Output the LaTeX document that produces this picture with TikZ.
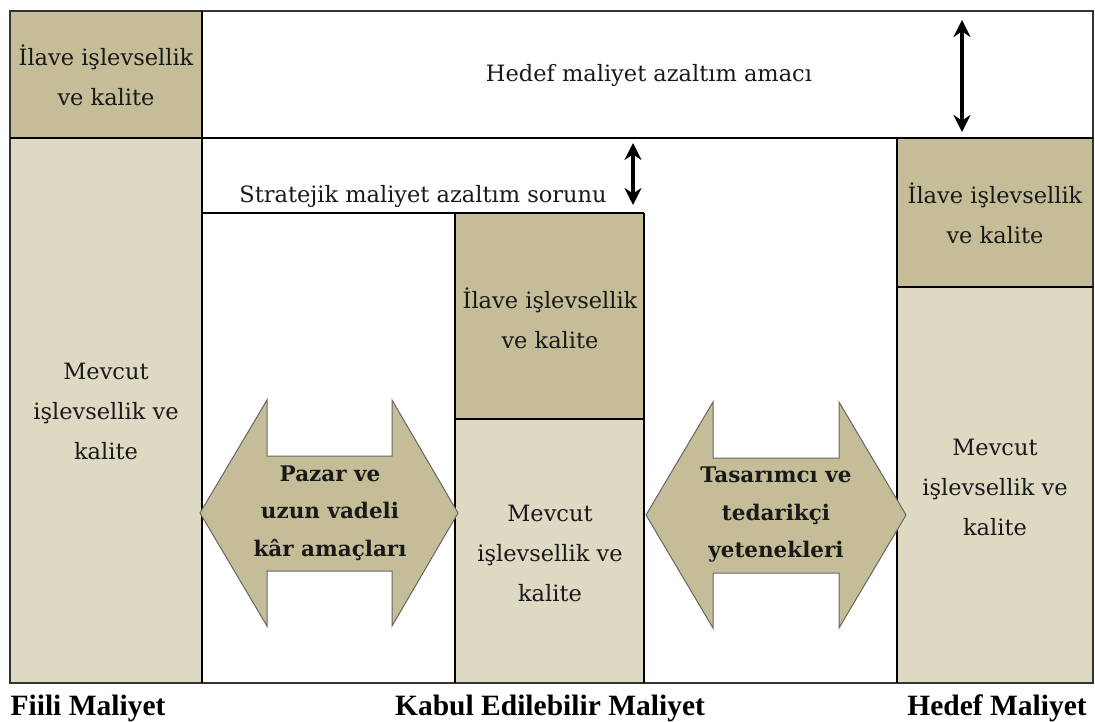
\documentclass[tikz,border=0pt]{standalone}
\usepackage{fontspec}
\setmainfont{DejaVu Serif}
\newfontfamily\labelfont{Liberation Serif}
\usetikzlibrary{arrows.meta}
\definecolor{tandark}{HTML}{C4BD97}
\definecolor{tanlight}{HTML}{DDD9C3}
\definecolor{frame}{HTML}{333333}
\begin{document}
\begin{tikzpicture}[x=1pt,y=-1pt,
  boxtext/.style={align=center,font=\fontsize{22.5}{40}\selectfont,text=black!90},
  arrowtext/.style={align=center,font=\fontsize{21.5}{37.5}\selectfont\bfseries,text=black!90},
  bigarrow/.style={fill=tandark,draw=black!60,line width=1pt,line join=miter},
  gap/.style={{Stealth[length=17pt,width=17pt]}-{Stealth[length=17pt,width=17pt]},line width=3.6pt},
  costlabel/.style={font=\labelfont\fontsize{29.5}{30}\selectfont\bfseries,anchor=base}]
\useasboundingbox (0,0) rectangle (1095,722);
% filled boxes of the three cost columns
\fill[tandark]  (10,11)   rectangle (202,138);
\fill[tanlight] (10,138)  rectangle (202,683);
\fill[tandark]  (455,213) rectangle (644,419);
\fill[tanlight] (455,419) rectangle (644,683);
\fill[tandark]  (897,138) rectangle (1093,287);
\fill[tanlight] (897,287) rectangle (1093,683);
% frame and dividing lines
\draw[frame,line width=1.6pt] (10,11) rectangle (1093,683);
\draw[line width=1.2pt] (10,138) -- (1093,138);
\draw[line width=1.2pt] (202,11) -- (202,683);
\draw[line width=1.2pt] (202,213) -- (644,213);
\draw[line width=1.2pt] (455,213) -- (455,683) (644,213) -- (644,683);
\draw[line width=1.2pt] (455,419) -- (644,419);
\draw[line width=1.2pt] (897,138) -- (897,683) (897,287) -- (1093,287);
% texts in the boxes
\node[boxtext] (fiiliadd) at (106,75) {İlave işlevsellik\\ve kalite};
\node[boxtext] (fiilibase) at (106,411) {Mevcut\\işlevsellik ve\\kalite};
\node[boxtext] (kabuladd) at (550,318) {İlave işlevsellik\\ve kalite};
\node[boxtext] (kabulbase) at (550,553) {Mevcut\\işlevsellik ve\\kalite};
\node[boxtext] (hedefadd) at (995,213) {İlave işlevsellik\\ve kalite};
\node[boxtext] (hedefbase) at (995,487) {Mevcut\\işlevsellik ve\\kalite};
\node[boxtext] (amac) at (649,75) {Hedef maliyet azaltım amacı};
\node[boxtext,anchor=base] (sorun) at (423,203) {Stratejik maliyet azaltım sorunu};
% gap arrows
\coordinate (g1a) at (962,20);  \coordinate (g1b) at (962,132);
\coordinate (g2a) at (633,143); \coordinate (g2b) at (633,205);
\draw[gap] (g1a) -- (g1b);
\draw[gap] (g2a) -- (g2b);
% block arrows between the columns
\draw[bigarrow] (200,513) -- (267,400) -- (267,456) -- (392,456) -- (392,400) -- (458,513)
  -- (392,626) -- (392,571) -- (267,571) -- (267,626) -- cycle;
\draw[bigarrow] (646,515) -- (713,402) -- (713,458) -- (839,458) -- (839,402) -- (906,515)
  -- (839,628) -- (839,573) -- (713,573) -- (713,628) -- cycle;
\node[arrowtext] (pazar) at (330,513) {Pazar ve\\uzun vadeli\\kâr amaçları};
\node[arrowtext] (tasarim) at (776,515) {Tasarımcı ve\\tedarikçi\\yetenekleri};
% column captions
\node[costlabel] (lfiili) at (88,715) {Fiili Maliyet};
\node[costlabel] (lkabul) at (550,715) {Kabul Edilebilir Maliyet};
\node[costlabel] (lhedef) at (997,715) {Hedef Maliyet};
\end{tikzpicture}
\end{document}
